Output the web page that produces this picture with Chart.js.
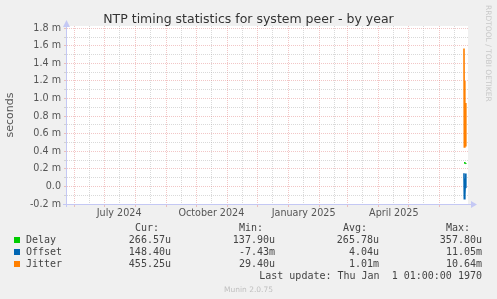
<!DOCTYPE html>
<html>
<head>
<meta charset="utf-8">
<script src="https://cdn.jsdelivr.net/npm/chart.js@4.4.1/dist/chart.umd.min.js"></script>
<style>
html, body { margin: 0; padding: 0; background: #f0f0f0; }
#wrap { position: relative; width: 497px; height: 299px; overflow: hidden; }
#chart { position: absolute; left: 0; top: 0; }
#title { position: absolute; left: 0; top: 11px; width: 497px; text-align: center; font-family: "DejaVu Sans", sans-serif; font-size: 12.5px; line-height: 16px; color: #333; }
.lg { position: absolute; font-family: "DejaVu Sans Mono", monospace; font-size: 10px; line-height: 12px; color: #444; white-space: pre; }
.box { position: absolute; width: 6px; height: 6px; }
#munin { position: absolute; left: 0; width: 497px; text-align: center; font-family: "DejaVu Sans", sans-serif; font-size: 7.5px; color: #c0c0c0; }
#rrd { position: absolute; left: 484px; top: 5px; writing-mode: vertical-rl; font-family: "DejaVu Sans", sans-serif; font-size: 7.5px; color: #c8c8c8; }
</style>
</head>
<body>
<div id="wrap">
  <canvas id="chart" width="497" height="299"></canvas>
  <div id="title">NTP timing statistics for system peer - by year</div>
  <div id="rrd">RRDTOOL / TOBI OETIKER</div>
  <div id="legend"></div>
  <div id="munin" style="top:285px">Munin 2.0.75</div>
</div>
<script>
// samples (all at the very end of the year window), values in milliseconds
const sampleTimes = ["2025-06-25 00:00", "2025-06-25 08:00", "2025-06-25 16:00", "2025-06-26 00:00",
                     "2025-06-26 08:00", "2025-06-26 16:00", "2025-06-27 00:00"];
const delayValues  = [0.270, 0.270, 0.268, 0.267, 0.266, 0.266, 0.267];
const offsetValues = [0.150, -0.140, 0.090, -0.100, 0.050, -0.020, 0.148];
const jitterValues = [1.570, 0.450, 1.200, 0.600, 0.950, 0.500, 0.455];

const seriesNames  = ["Delay", "Offset", "Jitter"];
const seriesColors = ["#00cc00", "#0066b3", "#ff8000"];
const curValues = ["266.57u", "148.40u", "455.25u"];
const minValues = ["137.90u", "-7.43m", "29.40u"];
const avgValues = ["265.78u", "4.04u", "1.01m"];
const maxValues = ["357.80u", "11.05m", "10.64m"];
const statHeaders = ["Cur:", "Min:", "Avg:", "Max:"];
const lastUpdate = "Last update: Thu Jan  1 01:00:00 1970";

const xLabels = ["July 2024", "October 2024", "January 2025", "April 2025"];
const xLabelDates = ["2024-07-16", "2024-10-16", "2025-01-16", "2025-04-16"];
const rangeStart = "2024-05-25";
const rangeDays = 400;
const yMin = -0.2, yMax = 1.826, yStep = 0.1;

function dayNum(s) {
    const [d, t] = s.split(" ");
    const [y, m, dd] = d.split("-").map(Number);
    const h = t ? +t.split(":")[0] : 0;
    return Date.UTC(y, m - 1, dd, h) / 864e5;
}

const xMin = dayNum(rangeStart);
const xMax = xMin + rangeDays;

// month starts -> red grid, 16th -> grey grid (labels sit on the 16th)
const monthStarts = new Set();
const xTickVals = [];
{
    const d0 = new Date(xMin * 864e5);
    let y = d0.getUTCFullYear(), m = d0.getUTCMonth();
    for (let i = 0; i < 16; i++) {
        const a = Date.UTC(y, m + i, 1) / 864e5;
        const b = Date.UTC(y, m + i, 16) / 864e5;
        if (a >= xMin && a <= xMax) { xTickVals.push(a); monthStarts.add(a); }
        if (b >= xMin && b <= xMax) xTickVals.push(b);
    }
}
const labelAt = {};
xLabelDates.forEach((d, i) => labelAt[dayNum(d)] = xLabels[i]);

const toPoints = vals => vals.map((v, i) => ({ x: dayNum(sampleTimes[i]), y: v }));
const seriesValues = [delayValues, offsetValues, jitterValues];

const RED = "rgba(225,120,120,0.42)";
const GREY = "rgba(170,170,170,0.45)";
const AXIS = "#c4c8f4";

const frame = {
    id: "frame",
    beforeDraw(chart) {
        const { ctx, chartArea: a } = chart;
        ctx.save();
        ctx.fillStyle = "#ffffff";
        ctx.fillRect(a.left, a.top, a.right - a.left, a.bottom - a.top);
        ctx.restore();
    },
    afterDraw(chart) {
        const { ctx, chartArea: a } = chart;
        ctx.save();
        ctx.strokeStyle = AXIS;
        ctx.fillStyle = AXIS;
        ctx.lineWidth = 1;
        ctx.beginPath();
        ctx.moveTo(a.left - 4, a.bottom + 0.5);
        ctx.lineTo(a.right + 3, a.bottom + 0.5);
        ctx.moveTo(a.left - 0.5, a.bottom + 3);
        ctx.lineTo(a.left - 0.5, a.top - 1);
        ctx.stroke();
        ctx.beginPath();
        ctx.moveTo(a.right + 9, a.bottom + 0.5);
        ctx.lineTo(a.right + 3, a.bottom - 3);
        ctx.lineTo(a.right + 3, a.bottom + 4);
        ctx.fill();
        ctx.beginPath();
        ctx.moveTo(a.left - 0.5, a.top - 6);
        ctx.lineTo(a.left - 4, a.top + 1);
        ctx.lineTo(a.left + 3, a.top + 1);
        ctx.fill();
        ctx.restore();
    }
};

new Chart(document.getElementById("chart").getContext("2d"), {
    type: "line",
    data: {
        datasets: seriesNames.map((n, i) => ({
            label: n,
            data: toPoints(seriesValues[i]),
            borderColor: seriesColors[i],
            backgroundColor: seriesColors[i],
            borderWidth: 1.6,
            pointRadius: 0,
            tension: 0
        }))
    },
    options: {
        responsive: false,
        animation: false,
        layout: { padding: { left: 0, right: 29, top: 26, bottom: 0 } },
        plugins: {
            legend: { display: false },
            tooltip: { enabled: false },
            title: { display: false }
        },
        scales: {
            x: {
                type: "linear",
                min: xMin,
                max: xMax,
                bounds: "data",
                afterBuildTicks: s => { s.ticks = xTickVals.map(v => ({ value: v })); },
                afterFit: s => { s.height = 95; },
                ticks: {
                    autoSkip: false,
                    maxRotation: 0,
                    minRotation: 0,
                    padding: 1,
                    color: "#555",
                    font: { family: "DejaVu Sans", size: 9.6 },
                    callback: v => labelAt[v] || ""
                },
                grid: {
                    color: c => monthStarts.has(c.tick && c.tick.value) ? RED : GREY,
                    tickColor: c => monthStarts.has(c.tick && c.tick.value) ? RED : "rgba(0,0,0,0)",
                    tickLength: 3,
                    lineWidth: 1
                },
                border: { display: false, dash: [1, 1] }
            },
            y: {
                type: "linear",
                min: yMin,
                max: yMax,
                bounds: "data",
                afterBuildTicks: s => {
                    const t = [];
                    for (let k = Math.round(yMin / yStep); k * yStep <= yMax + 1e-9; k++) t.push({ value: k * yStep });
                    s.ticks = t;
                },
                afterFit: s => { s.width = 67; },
                title: {
                    display: true,
                    text: "seconds",
                    color: "#555",
                    font: { family: "DejaVu Sans", size: 11 },
                    padding: { top: 4, bottom: 0 }
                },
                ticks: {
                    autoSkip: false,
                    padding: 3,
                    color: "#555",
                    font: { family: "DejaVu Sans", size: 9.6 },
                    callback: v => {
                        const k = Math.round(v / yStep);
                        if (k % 2 !== 0) return "";
                        return k === 0 ? "0.0" : (k / 10).toFixed(1) + " m";
                    }
                },
                grid: {
                    color: c => Math.round(c.tick.value / yStep) % 2 === 0 ? RED : GREY,
                    tickColor: c => Math.round(c.tick.value / yStep) % 2 === 0 ? RED : GREY,
                    tickLength: 3,
                    lineWidth: 1
                },
                border: { display: false, dash: [1, 1] }
            }
        }
    },
    plugins: [frame]
});

// legend table under the graph
const legend = document.getElementById("legend");
function put(text, yc, right, left) {
    const el = document.createElement("div");
    el.className = "lg";
    el.textContent = text;
    el.style.top = (yc - 6) + "px";
    if (right != null) { el.style.right = (497 - right) + "px"; el.style.textAlign = "right"; }
    else el.style.left = left + "px";
    legend.appendChild(el);
}
const headRight = [159, 263, 367, 470];
const valRight = [171, 275, 379, 482];
const rowY = [239.5, 251.5, 263.5];
statHeaders.forEach((h, i) => put(h, 227.5, headRight[i]));
seriesNames.forEach((n, i) => {
    const b = document.createElement("div");
    b.className = "box";
    b.style.left = "14px";
    b.style.top = (rowY[i] - 3) + "px";
    b.style.background = seriesColors[i];
    legend.appendChild(b);
    put(n, rowY[i], null, 26);
    [curValues[i], minValues[i], avgValues[i], maxValues[i]].forEach((v, j) => put(v, rowY[i], valRight[j]));
});
put(lastUpdate, 275.5, 482);
</script>
</body>
</html>
